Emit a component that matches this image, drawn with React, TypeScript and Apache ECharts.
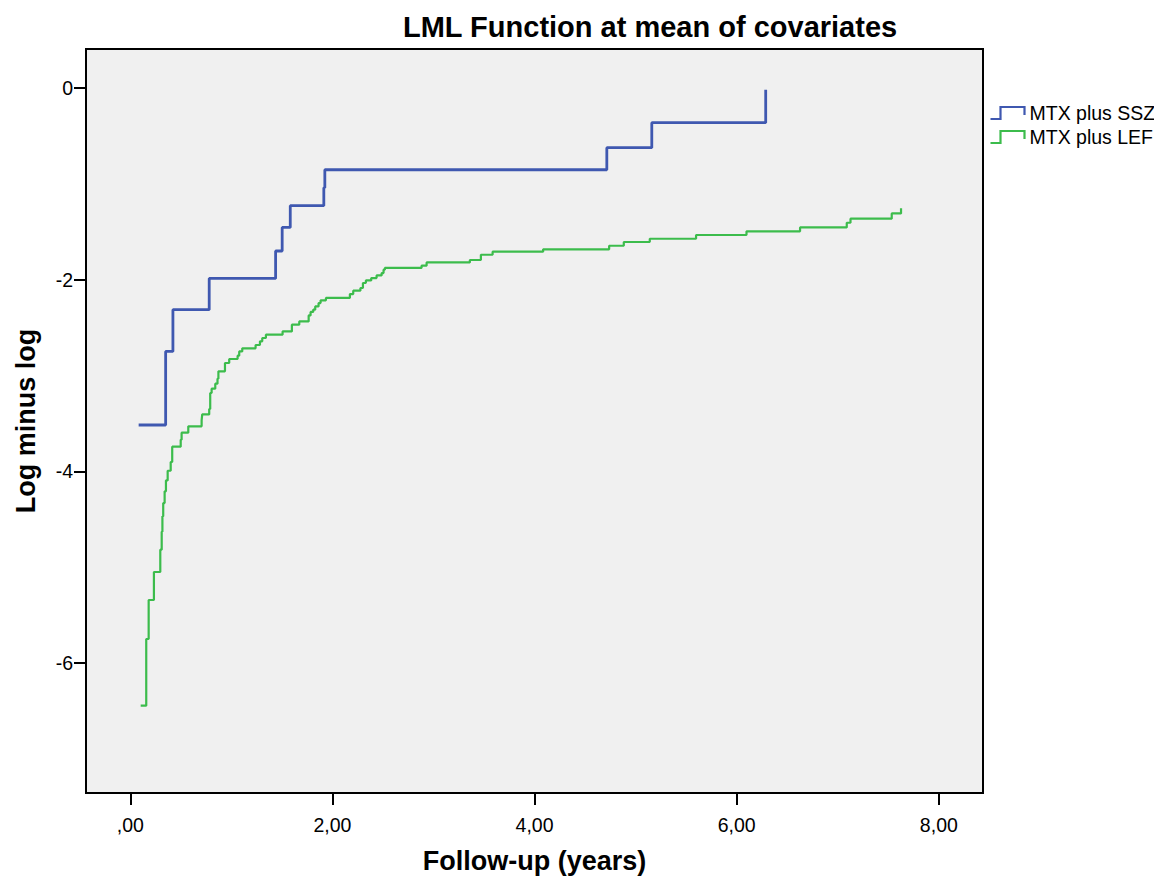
import React, { useEffect, useRef } from "react";
import * as echarts from "echarts";

const titleText = "LML Function at mean of covariates";
const xAxisName = "Follow-up (years)";
const yAxisName = "Log minus log";
const xTicks = [0, 2, 4, 6, 8];
const yTicks = [0, -2, -4, -6];

const sszName = "MTX plus SSZ";
const lefName = "MTX plus LEF";
const sszColor = "#3f58b0";
const lefColor = "#3cbc4c";

// MTX plus SSZ: step points (time, value after the step)
const sszX = [0.083, 0.35, 0.422, 0.781, 1.438, 1.503, 1.583, 1.915, 1.925, 4.715, 5.16, 6.287];
const sszY = [-3.517, -2.749, -2.313, -1.987, -1.701, -1.455, -1.228, -1.04, -0.853, -0.623, -0.362, -0.018];

// MTX plus LEF
const lefX = [
  0.103, 0.158, 0.182, 0.234, 0.297, 0.311, 0.318, 0.326, 0.34, 0.353, 0.37, 0.4, 0.415, 0.499, 0.508,
  0.574, 0.706, 0.712, 0.781, 0.791, 0.805, 0.841, 0.863, 0.872, 0.937, 0.979, 1.062, 1.078, 1.108,
  1.24, 1.283, 1.306, 1.342, 1.507, 1.599, 1.672, 1.765, 1.784, 1.81, 1.83, 1.863, 1.883, 1.936,
  2.173, 2.206, 2.277, 2.302, 2.331, 2.384, 2.437, 2.487, 2.506, 2.519, 2.882, 2.932, 3.36, 3.469,
  3.585, 4.085, 4.738, 4.883, 5.14, 5.598, 6.097, 6.627, 7.089, 7.126, 7.534, 7.626,
];
const lefY = [
  -6.446, -5.75, -5.343, -5.051, -4.818, -4.63, -4.47, -4.331, -4.209, -4.095, -3.994, -3.903, -3.743,
  -3.67, -3.597, -3.531, -3.469, -3.406, -3.35, -3.183, -3.138, -3.086, -3.033, -2.957, -2.87, -2.828,
  -2.793, -2.749, -2.717, -2.682, -2.644, -2.609, -2.574, -2.54, -2.47, -2.436, -2.373, -2.337, -2.313,
  -2.279, -2.244, -2.216, -2.191, -2.15, -2.115, -2.087, -2.035, -2.008, -1.983, -1.956, -1.931, -1.896,
  -1.878, -1.854, -1.82, -1.795, -1.74, -1.708, -1.684, -1.646, -1.607, -1.573, -1.534, -1.496, -1.455,
  -1.406, -1.364, -1.309, -1.256,
];

const FONT = "'Liberation Sans', Arial, sans-serif";
const STEP_ICON = "path://M0,12L10,12L10,0L34,0L34,8";

export default function App() {
  const ref = useRef<HTMLDivElement>(null);
  useEffect(() => {
    if (!ref.current) return;
    const chart = echarts.init(ref.current, null, { renderer: "svg" });
    const zip = (xs: number[], ys: number[]) => xs.map((x, i) => [x, ys[i]]);
    const fmtX = (v: number) => (v === 0 ? ",00" : v.toFixed(2).replace(".", ","));
    chart.setOption({
      animation: false,
      backgroundColor: "#ffffff",
      title: {
        text: titleText,
        left: 403,
        top: 12,
        padding: 0,
        textStyle: { fontFamily: FONT, fontWeight: "bold", fontSize: 29, color: "#000" },
      },
      legend: {
        orient: "vertical",
        left: 988,
        top: 103,
        padding: 0,
        itemWidth: 34,
        itemHeight: 12,
        itemGap: 4,
        icon: STEP_ICON,
        textStyle: { fontFamily: FONT, fontSize: 19.5, color: "#000" },
        data: [
          {
            name: sszName,
            icon: STEP_ICON,
            itemStyle: { color: "none", borderColor: sszColor, borderWidth: 2.2 },
          },
          {
            name: lefName,
            icon: STEP_ICON,
            itemStyle: { color: "none", borderColor: lefColor, borderWidth: 2.2 },
          },
        ],
      },
      grid: {
        left: 86,
        top: 49,
        width: 897,
        height: 744,
        show: true,
        backgroundColor: "#f0f0f0",
        borderColor: "#000",
        borderWidth: 2,
        outerBoundsMode: "none",
        containLabel: false,
      },
      xAxis: {
        type: "value",
        min: -0.438,
        max: 8.437,
        name: xAxisName,
        nameLocation: "middle",
        nameGap: 54,
        nameTextStyle: { fontFamily: FONT, fontWeight: "bold", fontSize: 27, color: "#000" },
        axisLine: { show: true, onZero: false, lineStyle: { color: "#000", width: 2 } },
        axisTick: { show: true, length: 12, customValues: xTicks, lineStyle: { color: "#000", width: 2 } },
        axisLabel: {
          show: true,
          customValues: xTicks,
          margin: 22,
          formatter: (v: number) => fmtX(v),
          fontFamily: FONT,
          fontSize: 19.5,
          color: "#000",
        },
        splitLine: { show: false },
      },
      yAxis: {
        type: "value",
        min: -7.357,
        max: 0.407,
        name: yAxisName,
        nameLocation: "middle",
        nameGap: 47,
        nameTextStyle: { fontFamily: FONT, fontWeight: "bold", fontSize: 27, color: "#000" },
        axisLine: { show: true, onZero: false, lineStyle: { color: "#000", width: 2 } },
        axisTick: { show: true, length: 12, customValues: yTicks, lineStyle: { color: "#000", width: 2 } },
        axisLabel: {
          show: true,
          customValues: yTicks,
          margin: 13,
          formatter: (v: number) => String(v),
          fontFamily: FONT,
          fontSize: 19.5,
          color: "#000",
        },
        splitLine: { show: false },
      },
      series: [
        {
          name: sszName,
          type: "line",
          step: "end",
          symbol: "none",
          data: zip(sszX, sszY),
          lineStyle: { color: sszColor, width: 2.8 },
          itemStyle: { color: sszColor },
        },
        {
          name: lefName,
          type: "line",
          step: "end",
          symbol: "none",
          data: zip(lefX, lefY),
          lineStyle: { color: lefColor, width: 2.2 },
          itemStyle: { color: lefColor },
        },
      ],
    });
    return () => chart.dispose();
  }, []);
  return (
    <div
      ref={ref}
      style={{ position: "absolute", left: 0, top: 0, width: 1154, height: 880 }}
    />
  );
}
